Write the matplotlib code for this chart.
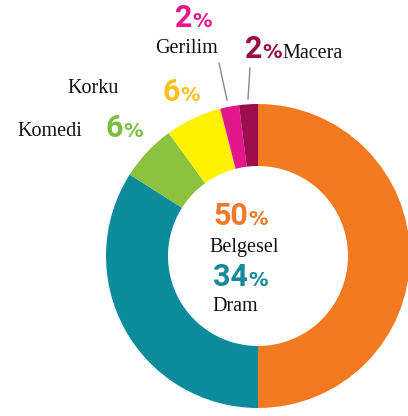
import matplotlib
matplotlib.use('Agg')
import matplotlib.pyplot as plt

# veriler
turler = ['Belgesel', 'Dram', 'Komedi', 'Korku', 'Gerilim', 'Macera']
oranlar = [50, 34, 6, 6, 2, 2]
dilim_renk = ['#F47A22', '#0B8B9B', '#8DC23F', '#FFF200', '#E4168B', '#9C0D4B']
yazi_renk = ['#F07A2A', '#17899A', '#7CBD44', '#F8C11C', '#E5188C', '#9A0E48']

W, H = 408, 416
def Y(y):
    return H - y

fig = plt.figure(figsize=(W / 100, H / 100), dpi=100)
ax = fig.add_axes([0, 0, 1, 1])

R, r_ic = 152, 90
ax.pie(oranlar, colors=dilim_renk, startangle=90, counterclock=False,
       radius=R, center=(258, Y(256)),
       wedgeprops=dict(width=R - r_ic, edgecolor='none', linewidth=0))
ax.set_xlim(0, W)
ax.set_ylim(0, H)
ax.set_aspect('equal')
ax.axis('off')

num_font = dict(family='Roboto', weight='bold', size=22)
pct_font = dict(family='DejaVu Sans', weight='bold', size=14)
lbl_font = dict(family='Liberation Serif', size=14.5)

def yuzde(i, x, y):
    ax.text(x, Y(y), str(oranlar[i]), color=yazi_renk[i], ha='right', va='baseline', **num_font)
    ax.text(x, Y(y), '%', color=yazi_renk[i], ha='left', va='baseline', **pct_font)

def etiket(i, x, y):
    ax.text(x, Y(y), turler[i], color='#111111', ha='left', va='baseline', **lbl_font)

# orta yazilar
yuzde(0, 248, 225)
etiket(0, 209, 252)
yuzde(1, 248, 286)
etiket(1, 212, 311)

# dis yazilar
yuzde(2, 123, 137)
etiket(2, 17, 136)
yuzde(3, 180, 101)
etiket(3, 67, 93)
yuzde(4, 192, 27)
etiket(4, 155, 53)
yuzde(5, 262, 58)
etiket(5, 282, 58)

# gosterge cizgileri
ax.plot([219, 227], [Y(63), Y(100)], color='#8a8a8a', lw=1)
ax.plot([250, 248], [Y(68), Y(99)], color='#8a8a8a', lw=1)

fig.savefig('out.png', dpi=100)
